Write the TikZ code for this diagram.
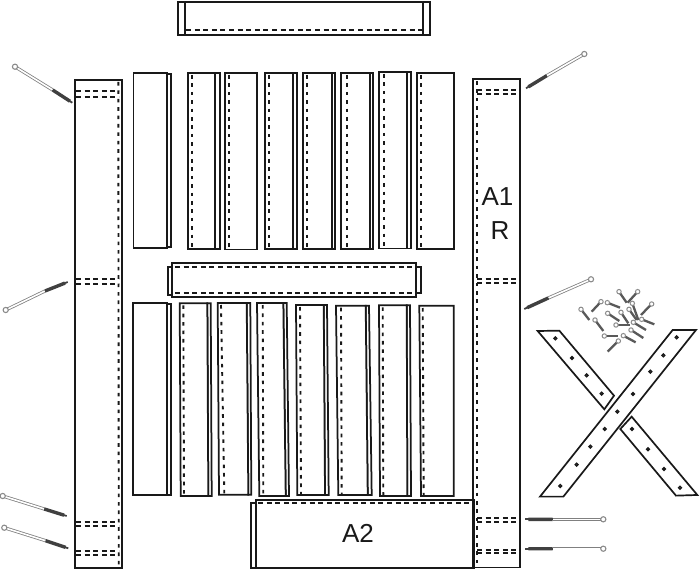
\documentclass[tikz,border=0pt]{standalone}
\usepackage{fontspec}
\setmainfont{Liberation Sans}
\definecolor{ink}{gray}{0.1}
\tikzset{
  part/.style={draw=ink,line width=1.75pt,fill=white,line join=miter},
  hidline/.style={draw=ink,line width=1.7pt,dash pattern=on 5pt off 3.6pt},
  hidvert/.style={draw=ink,line width=1.9pt,dash pattern=on 3.6pt off 4.8pt},
  partlabel/.style={font=\fontsize{26}{28}\selectfont,text=ink,inner sep=0pt},
  strap/.style={draw=ink,line width=1.7pt,fill=white,line join=miter},
  hole/.style={draw=ink,line width=1.4pt,fill=white},
}
% bolt: head, start of thread, tip
\newcommand{\longbolt}[3]{%
  \draw[black!50,line width=3.2pt] (#1) -- (#2);
  \draw[white,line width=1.6pt] (#1) -- (#2);
  \draw[black!75,line width=3.4pt] (#2) -- ($(#2)!0.88!(#3)$);
  \draw[black!75,line width=1.8pt] (#2) -- (#3);
  \draw[black!45,fill=white,line width=1.1pt] (#1) circle (2.6pt);
}
\newcommand{\smallscrew}[2]{%
  \draw[black!65,line width=2.3pt] (#1) -- (#2);
  \draw[black!45,fill=white,line width=1pt] (#1) circle (2.2pt);
}
\usetikzlibrary{calc}
\begin{document}
\begin{tikzpicture}[x=1pt,y=-1pt]
\useasboundingbox (0,0) rectangle (700,569);
\fill[white] (0,0) rectangle (700,569);

% top beam
\draw[part] (177.7,1.7) rectangle (430,35);
\draw[part] (184.7,1.7) -- (184.7,35);
\draw[part] (422.7,1.7) -- (422.7,35);
\draw[hidline] (186,30) -- (421.5,30);

% upper row of planks
\foreach \a/\b/\c/\d/\e/\f in {
  187.7/215/219.7/192.3/73/249,
  265/293.3/296.7/268.7/73/249,
  303.3/331.7/335.3/307.3/73/249,
  341.3/370/373.3/346.7/73/249,
  379/407.3/411/384/72/248.5}{
  \draw[part] (\b,\e) rectangle (\c,\f);
  \draw[part] (\a,\e) rectangle (\b,\f);
  \draw[hidvert] (\d,\e+2) -- (\d,\f-1);
}
\draw[part] (167,74) rectangle (170.7,247);
\draw[part] (133.5,72.7) rectangle (167,248);
\draw[part] (225.3,73) rectangle (257.3,249.5);
\draw[hidvert] (229.3,75) -- (229.3,248);
\draw[part] (417.3,73) rectangle (453.7,249);
\draw[hidvert] (420.7,75) -- (420.7,248);

% middle beam
\draw[part] (167.7,267.3) rectangle (174,295);
\draw[part] (414,267.3) rectangle (421,293.3);
\draw[part] (172.3,262.7) rectangle (416.3,297.3);
\draw[hidline] (175,267.3) -- (415,267.3);
\draw[hidline] (175,293.3) -- (415,293.3);

% lower row of planks
\foreach \a/\b/\c/\d/\e/\p/\q/\r/\s/\t in {
  179.7/207.3/210.7/183.3/303.3/180.7/208.3/211.7/184/496,
  217.7/246.7/250.3/221/303/219/248.3/251.3/224.3/494.7,
  257/283.3/286.7/262.7/303/259.3/285.7/289/263.3/496,
  296/323.7/327/300/305/297.3/325/328.7/301/495,
  336/365.7/369/341/305.7/338.3/367.7/371.7/341.7/495,
  379/406.7/410/382.7/305.3/380/407.3/411/383.3/496}{
  \draw[part] (\b,\e) -- (\c,\e) -- (\r,\t) -- (\q,\t) -- cycle;
  \draw[part] (\a,\e) -- (\b,\e) -- (\q,\t) -- (\p,\t) -- cycle;
  \draw[hidvert] (\d,\e+2) -- (\s,\t-1);
}
\draw[part] (167,304) rectangle (171,495.3);
\draw[part] (133.3,303.3) rectangle (167,495.3);
\draw[part] (419.3,305.7) -- (453.7,305.7) -- (453.7,496) -- (421,496) -- cycle;
\draw[hidvert] (422.7,308) -- (423.7,495);

% left post
\draw[part] (75,80) rectangle (121.7,568);
\draw[hidvert] (118.3,82) -- (118.8,567);
\foreach \y in {91.3,96.7,279.3,284,522.3,526,550.7,554.7}{
  \draw[hidline] (76,\y) -- (119,\y);
}

% A2 block
\draw[part] (251.3,503) rectangle (256,567.8);
\draw[part] (255.7,500) rectangle (474.3,567.8);
\draw[hidline] (258,503.3) -- (470,503.3);
\node[partlabel] (atwo) at (358,533) {A2};

% right post
\draw[draw=ink,line width=1.75pt] (473,79.3) rectangle (520,567.5);
\draw[hidvert] (477,81) -- (477,566);
\foreach \y in {90,94.3,279,283.3,517.7,521.7,550,553.3}{
  \draw[hidline] (477,\y) -- (518.5,\y);
}
\node[partlabel] (aone) at (497.5,197) {A1};
\node[partlabel] (rlabel) at (500,231) {R};

% long bolts
\longbolt{15,66.7}{52.7,90}{72.3,102.7}
\longbolt{584.3,54}{546.7,75.7}{526,88.3}
\longbolt{5.7,310}{45,291}{67.7,282}
\longbolt{591,279.3}{548.3,298}{524.3,309}
\longbolt{2.7,496}{44.3,509}{66.7,516}
\longbolt{4.3,527.7}{45.7,540.7}{68.3,548.3}
\longbolt{603.3,519.3}{552.7,519.3}{525,519.3}
\longbolt{603.3,548.7}{552.7,548.7}{525,548.7}

% cross straps and small screws, in crop coordinates
\begin{scope}[shift={(500,270)},x=0.3333pt,y=-0.3333pt]
  \draw[strap] (113,183) -- (178,182) -- (342,377) -- (313,418) -- cycle;
  \draw[strap] (395,440) -- (592,675) -- (528,677) -- (361,477) -- cycle;
  \draw[strap] (518,180) -- (588,180) -- (190,680) -- (120,680) -- cycle;
  \foreach \u/\v in {530/202,490/256,451/305,399/372,352/425,314/477,271/530,230/584,181/648,
                  166/205,216/264,260/316,305/371,396/477,444/538,492/597,540/653}{
    \draw[hole] (\u,\v) circle (1.4pt);
  }
  \smallscrew{357,65}{380,98}
  \smallscrew{413,65}{383,98}
  \smallscrew{455,102}{423,135}
  \smallscrew{397,100}{415,150}
  \smallscrew{303,95}{275,125}
  \smallscrew{322,98}{360,113}
  \smallscrew{243,118}{268,150}
  \smallscrew{323,130}{358,153}
  \smallscrew{363,127}{385,160}
  \smallscrew{387,118}{410,150}
  \smallscrew{425,148}{463,163}
  \smallscrew{285,150}{310,183}
  \smallscrew{348,165}{390,165}
  \smallscrew{400,157}{438,180}
  \smallscrew{393,180}{430,204}
  \smallscrew{313,198}{355,198}
  \smallscrew{370,197}{407,217}
  \smallscrew{355,213}{323,245}
\end{scope}
\end{tikzpicture}
\end{document}
